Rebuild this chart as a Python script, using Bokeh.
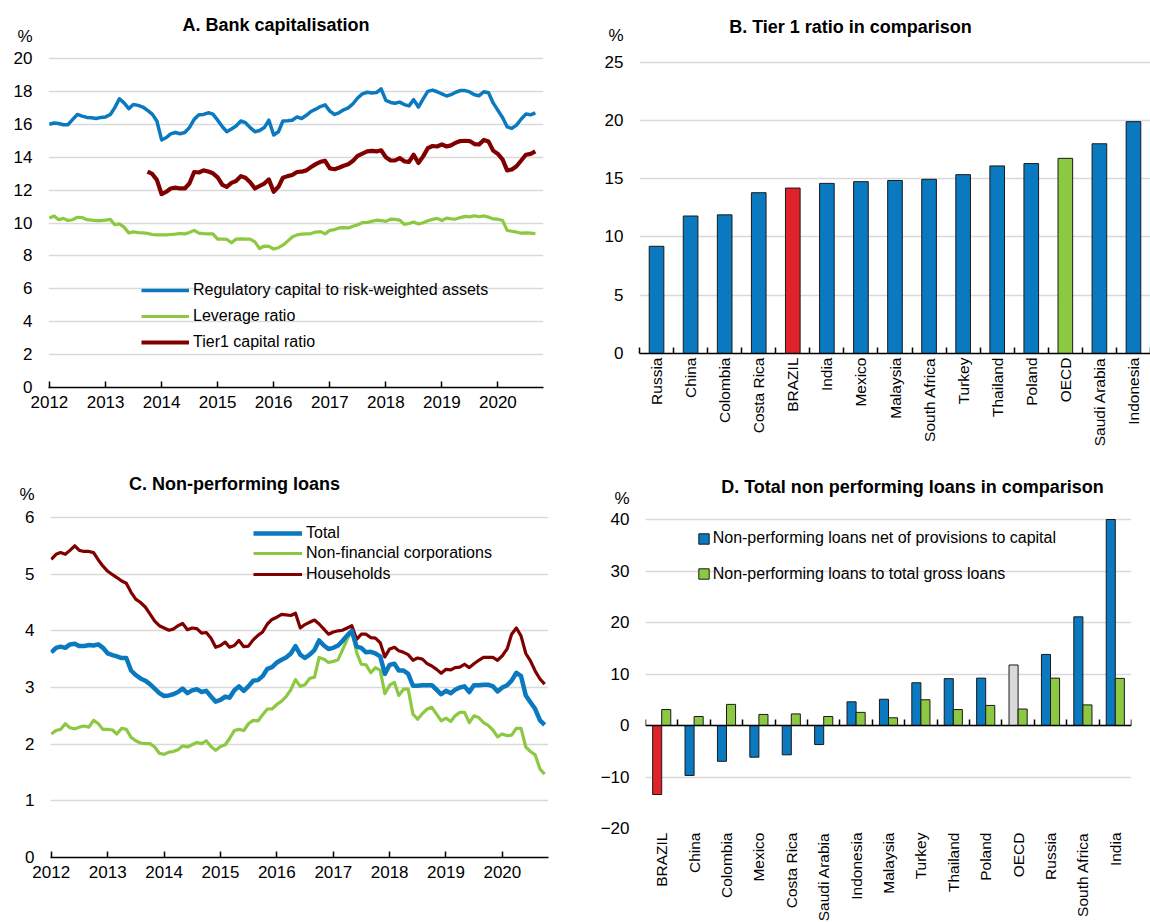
import math
import pandas as pd
from bokeh.plotting import figure
from bokeh.models import (Range1d, FixedTicker, Legend, LegendItem, Label,
                          LinearAxis, ColumnDataSource, DatetimeTickFormatter)
from bokeh.layouts import row, column
from bokeh.transform import dodge
from bokeh.core.properties import value
from bokeh.embed import file_html
from bokeh.resources import INLINE

FONT = "Liberation Sans"
TICK_SIZE = "17px"
LEG_SIZE = "16px"
CAT_SIZE = "15.5px"
TITLE_SIZE = "18px"
BLUE = "#0A79BF"
GREEN = "#8CC841"
DARK_RED = "#800000"
RED = "#E0232A"
GREY = "#D9D9D9"
GRID = "#D9D9D9"
EDGE = "#1A1A1A"

# ---------------- Panel A: Bank capitalisation (monthly, from Jan 2012) ----------------
a_start = "2012-01-01"
tier1_start = "2013-10-01"
reg_capital = [
    16.0, 16.08, 16.05, 15.97, 15.98, 16.3, 16.6, 16.5, 16.42, 16.4, 16.35, 16.42,
    16.45, 16.6, 17.0, 17.55, 17.3, 16.95, 17.2, 17.15, 17.05, 16.85, 16.62, 16.2,
    15.05, 15.2, 15.42, 15.5, 15.43, 15.5, 15.8, 16.3, 16.58, 16.6, 16.7, 16.62,
    16.25, 15.85, 15.55, 15.72, 15.9, 16.2, 16.1, 15.8, 15.55, 15.62, 15.8, 16.25,
    15.35, 15.55, 16.2, 16.22, 16.25, 16.45, 16.35, 16.55, 16.78, 16.92, 17.08, 17.18,
    16.8, 16.6, 16.7, 16.88, 17.0, 17.25, 17.6, 17.85, 17.95, 17.9, 17.93, 18.15,
    17.45, 17.33, 17.28, 17.35, 17.2, 17.12, 17.5, 17.05, 17.55, 18.0, 18.08, 17.98,
    17.85, 17.72, 17.8, 17.95, 18.05, 18.05, 17.97, 17.8, 17.74, 17.98, 17.92, 17.3,
    16.85, 16.4, 15.85, 15.75, 15.95, 16.32, 16.62, 16.58, 16.7,
]
leverage = [
    10.3, 10.42, 10.2, 10.28, 10.15, 10.2, 10.35, 10.33, 10.2, 10.17, 10.14, 10.15,
    10.17, 10.22, 9.9, 9.95, 9.75, 9.4, 9.46, 9.42, 9.4, 9.37, 9.3, 9.28,
    9.28, 9.28, 9.3, 9.32, 9.36, 9.34, 9.42, 9.55, 9.38, 9.35, 9.34, 9.34,
    9.02, 9.02, 9.01, 8.8, 9.02, 9.04, 9.02, 9.02, 8.85, 8.45, 8.6, 8.58,
    8.42, 8.5, 8.65, 8.9, 9.15, 9.28, 9.32, 9.34, 9.36, 9.45, 9.48, 9.34,
    9.55, 9.6, 9.7, 9.72, 9.7, 9.8, 9.9, 10.02, 10.03, 10.1, 10.17, 10.15,
    10.1, 10.23, 10.22, 10.18, 9.92, 9.97, 10.06, 9.94, 10.02, 10.14, 10.22, 10.28,
    10.15, 10.3, 10.25, 10.24, 10.33, 10.4, 10.37, 10.44, 10.38, 10.43, 10.36, 10.25,
    10.23, 10.15, 9.55, 9.5, 9.45, 9.38, 9.4, 9.38, 9.36,
]
tier1 = [
    13.12, 12.98, 12.62,
    11.75, 11.9, 12.1, 12.15, 12.1, 12.1, 12.4, 13.1, 13.07, 13.2, 13.13, 13.02,
    12.78, 12.32, 12.2, 12.44, 12.55, 12.85, 12.75, 12.48, 12.1, 12.25, 12.4, 12.65,
    11.9, 12.2, 12.75, 12.85, 12.92, 13.1, 13.12, 13.2, 13.4, 13.58, 13.72, 13.78,
    13.32, 13.27, 13.36, 13.48, 13.57, 13.78, 14.08, 14.22, 14.35, 14.38, 14.35, 14.42,
    14.0, 13.8, 13.8, 13.95, 13.75, 13.72, 14.15, 13.65, 14.05, 14.55, 14.68, 14.65,
    14.78, 14.65, 14.72, 14.88, 14.98, 15.0, 14.98, 14.8, 14.78, 15.05, 14.95, 14.4,
    14.2, 13.85, 13.2, 13.25, 13.45, 13.8, 14.15, 14.2, 14.35,
]
a_labels = ["Regulatory capital to risk-weighted assets", "Leverage ratio", "Tier1 capital ratio"]

# ---------------- Panel B: Tier 1 ratio in comparison ----------------
b_countries = ["Russia", "China", "Colombia", "Costa Rica", "BRAZIL", "India", "Mexico",
               "Malaysia", "South Africa", "Turkey", "Thailand", "Poland", "OECD",
               "Saudi Arabia", "Indonesia"]
b_tier1 = [9.2, 11.8, 11.9, 13.8, 14.2, 14.6, 14.75, 14.85, 14.95, 15.35, 16.1, 16.3,
           16.75, 18.0, 19.9]

# ---------------- Panel C: Non-performing loans (monthly, from Jan 2012) ----------------
c_start = "2012-01-01"
npl_total = [
    3.62, 3.7, 3.72, 3.7, 3.76, 3.77, 3.73, 3.73, 3.75, 3.74, 3.76, 3.7,
    3.6, 3.57, 3.55, 3.52, 3.52, 3.3, 3.22, 3.16, 3.12, 3.06, 2.98, 2.9,
    2.85, 2.86, 2.88, 2.92, 2.98, 2.9, 2.95, 2.97, 2.92, 2.94, 2.84, 2.75,
    2.78, 2.84, 2.82, 2.95, 3.02, 2.94, 3.02, 3.12, 3.13, 3.2, 3.33, 3.36,
    3.44, 3.49, 3.53, 3.6, 3.73, 3.58, 3.52, 3.58, 3.66, 3.83, 3.74, 3.68,
    3.7, 3.74, 3.82, 3.92, 4.0, 3.72, 3.7, 3.62, 3.63, 3.6, 3.55, 3.24,
    3.4, 3.42, 3.3, 3.3, 3.24, 3.03, 3.03, 3.04, 3.04, 3.04, 2.96, 2.88,
    2.94, 2.9, 2.96, 3.0, 3.02, 2.92, 3.04, 3.04, 3.05, 3.05, 3.02, 2.93,
    3.0, 3.04, 3.12, 3.26, 3.2, 2.86, 2.74, 2.62, 2.42, 2.34,
]
npl_nfc = [
    2.18, 2.24, 2.26, 2.36, 2.29, 2.27, 2.3, 2.32, 2.3, 2.42, 2.36, 2.26,
    2.26, 2.25, 2.18, 2.28, 2.26, 2.12, 2.06, 2.02, 2.01, 2.01, 1.95, 1.84,
    1.82, 1.86, 1.87, 1.9, 1.97, 1.95, 1.99, 2.03, 2.01, 2.06, 1.96, 1.89,
    1.96, 1.99, 2.1, 2.24, 2.26, 2.24, 2.36, 2.42, 2.41, 2.52, 2.62, 2.62,
    2.7, 2.76, 2.84, 2.96, 3.14, 3.02, 3.05, 3.16, 3.18, 3.53, 3.5, 3.44,
    3.46, 3.49, 3.66, 3.85, 4.0, 3.62, 3.41, 3.4, 3.26, 3.35, 3.3, 2.89,
    3.04, 3.09, 2.86, 2.97, 2.97, 2.53, 2.44, 2.54, 2.62, 2.65, 2.53, 2.41,
    2.46, 2.4, 2.5, 2.56, 2.56, 2.38, 2.5, 2.47, 2.38, 2.33, 2.25, 2.13,
    2.18, 2.15, 2.16, 2.28, 2.28, 1.95, 1.87, 1.81, 1.56, 1.47,
]
npl_households = [
    5.26, 5.35, 5.38, 5.35, 5.42, 5.5, 5.42, 5.4, 5.4, 5.38, 5.25, 5.14,
    5.05, 4.99, 4.94, 4.88, 4.84, 4.68, 4.56, 4.5, 4.42, 4.3, 4.17, 4.09,
    4.05, 4.01, 4.03, 4.09, 4.13, 4.02, 4.05, 4.04, 3.96, 3.97, 3.87, 3.71,
    3.74, 3.8, 3.71, 3.74, 3.83, 3.72, 3.73, 3.84, 3.92, 3.98, 4.12, 4.2,
    4.24, 4.29, 4.28, 4.27, 4.31, 4.05, 4.11, 4.15, 4.19, 4.12, 4.03, 3.94,
    3.98, 4.0, 4.01, 4.05, 4.09, 3.85, 3.94, 3.94, 3.88, 3.87, 3.79, 3.54,
    3.68, 3.71, 3.65, 3.62, 3.58, 3.48, 3.52, 3.5, 3.42, 3.38, 3.32, 3.25,
    3.32, 3.31, 3.35, 3.36, 3.41, 3.35, 3.42, 3.48, 3.53, 3.53, 3.53, 3.48,
    3.56, 3.68, 3.94, 4.05, 3.91, 3.6, 3.47, 3.29, 3.15, 3.06,
]
c_labels = ["Total", "Non-financial corporations", "Households"]

# ---------------- Panel D: Total non performing loans in comparison ----------------
d_countries = ["BRAZIL", "China", "Colombia", "Mexico", "Costa Rica", "Saudi Arabia",
               "Indonesia", "Malaysia", "Turkey", "Thailand", "Poland", "OECD", "Russia",
               "South Africa", "India"]
d_npl_net_capital = [-13.4, -9.7, -6.95, -6.15, -5.7, -3.7, 4.6, 5.1, 8.3, 9.1, 9.2,
                     11.75, 13.8, 21.1, 40.0]
d_npl_gross = [3.1, 1.75, 4.1, 2.15, 2.25, 1.75, 2.55, 1.5, 5.0, 3.1, 3.9, 3.2, 9.2,
               4.0, 9.15]
d_labels = ["Non-performing loans net of provisions to capital",
            "Non-performing loans to total gross loans"]

year_ticks = list(range(2012, 2021))
titles = ["A. Bank capitalisation", "B. Tier 1 ratio in comparison",
          "C. Non-performing loans", "D. Total non performing loans in comparison"]
unit = "%"


# ---------------- helpers ----------------
def base_fig(fw, fh, left, right, top, bottom, x_range, y_range,
             x_type="linear", x_axis_location="below"):
    p = figure(frame_width=fw, frame_height=fh,
               min_border_left=left, min_border_right=right,
               min_border_top=top, min_border_bottom=bottom,
               x_range=x_range, y_range=y_range, x_axis_type=x_type,
               x_axis_location=x_axis_location,
               toolbar_location=None, tools="", output_backend="svg")
    if "frame_align" in p.properties():
        p.frame_align = False
    p.outline_line_color = None
    p.background_fill_color = "white"
    p.border_fill_color = "white"
    p.xgrid.grid_line_color = None
    return p


def style_y(p, ticks, unit_pos):
    ax = p.yaxis[0]
    ax.ticker = FixedTicker(ticks=ticks + [unit_pos])
    ax.major_label_overrides = {unit_pos: unit}
    ax.axis_line_color = None
    ax.major_tick_line_color = None
    ax.minor_tick_line_color = None
    ax.major_tick_in = 0
    ax.major_tick_out = 0
    ax.minor_tick_in = 0
    ax.minor_tick_out = 0
    ax.major_label_standoff = 16
    ax.major_label_text_font = FONT
    ax.major_label_text_font_size = TICK_SIZE
    ax.major_label_text_color = "black"
    p.ygrid.ticker = FixedTicker(ticks=ticks)
    p.ygrid.grid_line_color = GRID
    p.ygrid.grid_line_width = 1.5


def style_x_dates(p):
    ax = p.xaxis[0]
    ticks_ms = [pd.Timestamp(f"{y}-01-01").value // 10**6 for y in year_ticks]
    ax.ticker = FixedTicker(ticks=ticks_ms)
    ax.formatter = DatetimeTickFormatter(years="%Y", months="%Y", days="%Y")
    ax.major_label_overrides = {t: str(y) for t, y in zip(ticks_ms, year_ticks)}
    ax.axis_line_color = "black"
    ax.axis_line_width = 1.5
    ax.major_tick_line_color = "black"
    ax.major_tick_line_width = 1.5
    ax.major_tick_in = 6
    ax.major_tick_out = 0
    ax.minor_tick_line_color = None
    ax.major_label_standoff = 8
    ax.major_label_text_font = FONT
    ax.major_label_text_font_size = TICK_SIZE
    ax.major_label_text_color = "black"


def add_title(p, x, y, text):
    p.add_layout(Label(x=x, y=y, x_units="screen", y_units="screen", text=text,
                       text_font=FONT, text_font_size=TITLE_SIZE,
                       text_font_style="bold", text_align="center",
                       text_baseline="alphabetic", text_color="black"))


def add_legend(p, renderer, label, vx, vy, gw, gh, standoff, index=None):
    item = LegendItem(label=value(label), renderers=[renderer])
    if index is not None:
        item.index = index
    lg = Legend(items=[item], location=(vx, vy), orientation="vertical", padding=0,
                margin=0, spacing=0, glyph_width=gw, glyph_height=gh,
                label_height=gh, label_standoff=standoff, label_text_font=FONT,
                label_text_font_size=LEG_SIZE, label_text_color="black",
                border_line_color=None, background_fill_alpha=0)
    p.add_layout(lg)


def cat_axis(p, names, show_line, show_labels, loc=None):
    idx = list(range(len(names)))
    bounds = [i - 0.5 for i in range(len(names) + 1)]
    ax = LinearAxis(ticker=FixedTicker(ticks=idx, minor_ticks=bounds),
                    major_label_overrides={i: n for i, n in zip(idx, names)})
    if loc is not None:
        ax.fixed_location = loc
    ax.major_tick_in = 0
    ax.major_tick_out = 0
    ax.major_tick_line_color = None
    if show_line:
        ax.axis_line_color = "black"
        ax.axis_line_width = 1.5
        ax.minor_tick_line_color = "black"
        ax.minor_tick_line_width = 1.5
        ax.minor_tick_in = 6
        ax.minor_tick_out = 0
    else:
        ax.axis_line_color = None
        ax.minor_tick_line_color = None
        ax.minor_tick_in = 0
        ax.minor_tick_out = 0
    if show_labels:
        ax.major_label_orientation = math.pi / 2
        ax.major_label_standoff = 4
        ax.major_label_text_font = FONT
        ax.major_label_text_font_size = CAT_SIZE
        ax.major_label_text_color = "black"
    else:
        ax.major_label_text_color = None
        ax.major_label_text_font_size = "1px"
        ax.major_label_standoff = 0
    p.add_layout(ax, "below")


# ---------------- Panel A ----------------
pa = base_fig(495, 379, 48, 32, 8, 63,
              Range1d(pd.Timestamp("2011-12-26"), pd.Timestamp("2020-10-24")),
              Range1d(0, 23.04), x_type="datetime")
style_y(pa, list(range(0, 21, 2)), 21.34)
style_x_dates(pa)
src_a = ColumnDataSource(dict(date=pd.date_range(a_start, periods=len(reg_capital), freq="MS"),
                              reg=reg_capital, lev=leverage))
src_t1 = ColumnDataSource(dict(date=pd.date_range(tier1_start, periods=len(tier1), freq="MS"),
                               t1=tier1))
ra1 = pa.line("date", "reg", source=src_a, line_color=BLUE, line_width=3.5, line_join="round")
ra2 = pa.line("date", "lev", source=src_a, line_color=GREEN, line_width=3.2, line_join="round")
ra3 = pa.line("date", "t1", source=src_t1, line_color=DARK_RED, line_width=4.2, line_join="round")
for r, lab, vy in zip([ra1, ra2, ra3], a_labels, [85, 59, 33]):
    add_legend(pa, r, lab, 93, vy, 48, 24, 4)
add_title(pa, 227.5, 363, titles[0])

# ---------------- Panel B ----------------
pb = base_fig(511, 345, 64, 0, 8, 97, Range1d(-0.5, len(b_countries) - 0.5),
              Range1d(0, 29.61), x_axis_location=None)
style_y(pb, list(range(0, 26, 5)), 27.29)
b_colors = [RED if c == "BRAZIL" else GREEN if c == "OECD" else BLUE for c in b_countries]
src_b = ColumnDataSource(dict(idx=list(range(len(b_countries))), val=b_tier1, color=b_colors))
pb.vbar(x="idx", top="val", bottom=0, width=0.43, source=src_b, fill_color="color",
        line_color=EDGE, line_width=1)
cat_axis(pb, b_countries, True, True)
add_title(pb, 211, 327, titles[1])

# ---------------- Panel C ----------------
pc = base_fig(498, 395, 50, 27, 12, 65,
              Range1d(pd.Timestamp("2011-12-27"), pd.Timestamp("2020-10-26")),
              Range1d(0, 6.97), x_type="datetime")
style_y(pc, list(range(0, 7)), 6.41)
style_x_dates(pc)
src_c = ColumnDataSource(dict(date=pd.date_range(c_start, periods=len(npl_total), freq="MS"),
                              tot=npl_total, nfc=npl_nfc, hh=npl_households))
rc3 = pc.line("date", "hh", source=src_c, line_color=DARK_RED, line_width=3.2, line_join="round")
rc2 = pc.line("date", "nfc", source=src_c, line_color=GREEN, line_width=3.2, line_join="round")
rc1 = pc.line("date", "tot", source=src_c, line_color=BLUE, line_width=4.5, line_join="round")
for r, lab, vy in zip([rc1, rc2, rc3], c_labels, [312, 292, 271]):
    add_legend(pc, r, lab, 203, vy, 49, 24, 4)
add_title(pc, 184, 374, titles[2])

# ---------------- Panel D ----------------
pd_ = base_fig(486, 366, 70, 19, 12, 94, Range1d(-0.5, len(d_countries) - 0.5),
               Range1d(-20, 51.07), x_axis_location=None)
style_y(pd_, list(range(-20, 41, 10)), 44.17)
d_colors = [RED if c == "BRAZIL" else GREY if c == "OECD" else BLUE for c in d_countries]
src_d = ColumnDataSource(dict(idx=list(range(len(d_countries))), net=d_npl_net_capital,
                              gross=d_npl_gross, color=d_colors))
rd1 = pd_.vbar(x=dodge("idx", -0.14), top="net", bottom=0, width=0.28, source=src_d,
               fill_color="color", line_color=EDGE, line_width=1)
rd2 = pd_.vbar(x=dodge("idx", 0.14), top="gross", bottom=0, width=0.28, source=src_d,
               fill_color=GREEN, line_color=EDGE, line_width=1)
cat_axis(pd_, d_countries, False, True)
cat_axis(pd_, d_countries, True, False, loc=0)
add_legend(pd_, rd1, d_labels[0], 51.7, 280.7, 13, 13, 3, index=1)
add_legend(pd_, rd2, d_labels[1], 51.7, 245.1, 13, 13, 3, index=1)
add_title(pd_, 267, 342, titles[3])

layout = column(row(pa, pb), row(pc, pd_))
open("out.html", "w").write(file_html(layout, INLINE))
